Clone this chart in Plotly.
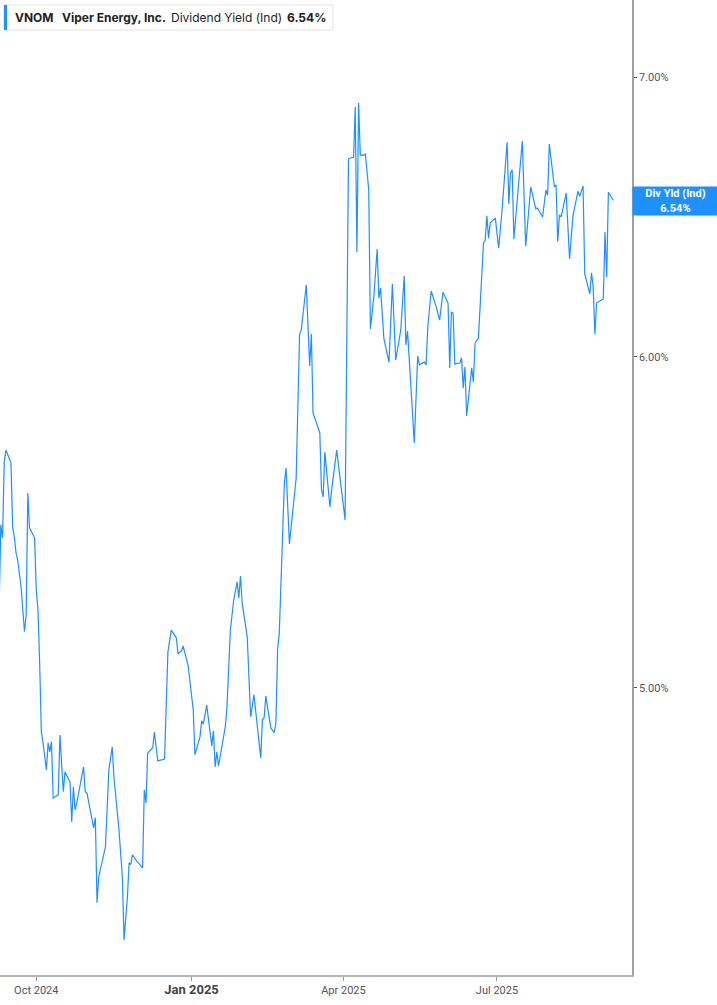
import math
import plotly.graph_objects as go

# VNOM dividend yield (indicated)
dates = [
    "2024-09-09", "2024-09-10", "2024-09-11", "2024-09-12", "2024-09-13", "2024-09-16", "2024-09-17", "2024-09-18", "2024-09-19", "2024-09-20",
    "2024-09-22", "2024-09-23", "2024-09-24", "2024-09-25", "2024-09-26", "2024-09-27", "2024-09-30", "2024-10-01", "2024-10-02", "2024-10-03",
    "2024-10-04", "2024-10-05", "2024-10-07", "2024-10-08", "2024-10-09", "2024-10-10", "2024-10-11", "2024-10-14", "2024-10-15", "2024-10-17",
    "2024-10-18", "2024-10-21", "2024-10-22", "2024-10-23", "2024-10-24", "2024-10-25", "2024-10-29", "2024-10-30", "2024-10-31", "2024-11-04",
    "2024-11-05", "2024-11-06", "2024-11-07", "2024-11-11", "2024-11-12", "2024-11-13", "2024-11-15", "2024-11-16", "2024-11-19", "2024-11-21",
    "2024-11-22", "2024-11-24", "2024-11-25", "2024-11-26", "2024-11-27", "2024-11-29", "2024-12-03", "2024-12-04", "2024-12-05", "2024-12-06",
    "2024-12-09", "2024-12-10", "2024-12-12", "2024-12-16", "2024-12-18", "2024-12-20", "2024-12-23", "2024-12-24", "2024-12-26", "2024-12-27",
    "2024-12-30", "2025-01-02", "2025-01-03", "2025-01-06", "2025-01-07", "2025-01-08", "2025-01-10", "2025-01-13", "2025-01-14", "2025-01-15",
    "2025-01-16", "2025-01-17", "2025-01-21", "2025-01-22", "2025-01-24", "2025-01-26", "2025-01-28", "2025-01-29", "2025-01-30", "2025-01-31",
    "2025-02-03", "2025-02-05", "2025-02-07", "2025-02-11", "2025-02-12", "2025-02-13", "2025-02-14", "2025-02-17", "2025-02-19", "2025-02-20",
    "2025-02-21", "2025-02-22", "2025-02-25", "2025-02-26", "2025-02-28", "2025-03-04", "2025-03-06", "2025-03-07", "2025-03-10", "2025-03-12",
    "2025-03-13", "2025-03-14", "2025-03-18", "2025-03-19", "2025-03-20", "2025-03-21", "2025-03-24", "2025-03-25", "2025-03-28", "2025-03-30",
    "2025-04-02", "2025-04-04", "2025-04-05", "2025-04-07", "2025-04-08", "2025-04-09", "2025-04-10", "2025-04-11", "2025-04-13", "2025-04-14",
    "2025-04-16", "2025-04-17", "2025-04-19", "2025-04-21", "2025-04-22", "2025-04-23", "2025-04-25", "2025-04-28", "2025-04-30", "2025-05-02",
    "2025-05-05", "2025-05-07", "2025-05-08", "2025-05-09", "2025-05-11", "2025-05-13", "2025-05-15", "2025-05-16", "2025-05-19", "2025-05-20",
    "2025-05-21", "2025-05-23", "2025-05-26", "2025-05-28", "2025-05-30", "2025-06-02", "2025-06-03", "2025-06-04", "2025-06-05", "2025-06-06",
    "2025-06-09", "2025-06-10", "2025-06-11", "2025-06-12", "2025-06-13", "2025-06-16", "2025-06-17", "2025-06-18", "2025-06-20", "2025-06-23",
    "2025-06-24", "2025-06-25", "2025-06-26", "2025-06-27", "2025-06-30", "2025-07-02", "2025-07-04", "2025-07-07", "2025-07-08", "2025-07-09",
    "2025-07-10", "2025-07-11", "2025-07-16", "2025-07-18", "2025-07-21", "2025-07-24", "2025-07-25", "2025-07-28", "2025-07-30", "2025-07-31",
    "2025-08-01", "2025-08-04", "2025-08-05", "2025-08-06", "2025-08-07", "2025-08-08", "2025-08-11", "2025-08-13", "2025-08-15", "2025-08-18",
    "2025-08-19", "2025-08-21", "2025-08-22", "2025-08-25", "2025-08-26", "2025-08-27", "2025-08-28", "2025-08-29", "2025-09-02", "2025-09-03",
    "2025-09-04", "2025-09-05", "2025-09-08",
]

div_yield = [
    5.231, 5.470, 5.431, 5.660, 5.700, 5.660, 5.464, 5.434, 5.386, 5.365,
    5.286, 5.228, 5.157, 5.205, 5.567, 5.461, 5.431, 5.277, 5.220, 5.069,
    4.880, 4.851, 4.779, 4.851, 4.827, 4.854, 4.706, 4.714, 4.872, 4.722,
    4.774, 4.748, 4.644, 4.735, 4.675, 4.693, 4.787, 4.722, 4.719, 4.629,
    4.655, 4.442, 4.506, 4.581, 4.683, 4.779, 4.840, 4.761, 4.624, 4.506,
    4.352, 4.456, 4.541, 4.536, 4.561, 4.548, 4.528, 4.727, 4.693, 4.824,
    4.838, 4.880, 4.803, 4.808, 5.100, 5.162, 5.140, 5.095, 5.103, 5.117,
    5.061, 4.940, 4.819, 4.867, 4.910, 4.902, 4.953, 4.843, 4.883, 4.787,
    4.827, 4.790, 4.894, 4.948, 5.162, 5.248, 5.301, 5.254, 5.318, 5.240,
    5.142, 4.921, 4.981, 4.811, 4.913, 4.918, 4.978, 4.891, 4.878, 4.905,
    5.106, 5.154, 5.598, 5.644, 5.413, 5.613, 6.073, 6.090, 6.243, 5.970,
    6.076, 5.818, 5.754, 5.576, 5.555, 5.694, 5.524, 5.576, 5.700, 5.616,
    5.485, 6.691, 6.695, 6.698, 6.886, 6.357, 6.901, 6.706, 6.706, 6.710,
    6.578, 6.093, 6.202, 6.368, 6.198, 6.232, 6.060, 5.983, 6.246, 5.990,
    6.090, 6.274, 6.040, 6.086, 5.914, 5.722, 6.003, 5.974, 5.983, 5.974,
    6.100, 6.222, 6.168, 6.123, 6.218, 6.181, 5.964, 6.150, 6.147, 5.977,
    5.980, 5.997, 5.898, 5.967, 5.808, 5.964, 5.918, 6.046, 6.063, 6.389,
    6.399, 6.485, 6.406, 6.460, 6.477, 6.371, 6.506, 6.754, 6.528, 6.640,
    6.652, 6.402, 6.758, 6.378, 6.589, 6.510, 6.513, 6.481, 6.578, 6.559,
    6.747, 6.589, 6.597, 6.393, 6.489, 6.481, 6.567, 6.333, 6.485, 6.574,
    6.555, 6.593, 6.281, 6.212, 6.285, 6.236, 6.076, 6.181, 6.195, 6.428,
    6.270, 6.570, 6.540,
]

x_tick_dates = ["2024-10-01", "2025-01-01", "2025-04-01", "2025-07-01"]
x_tick_labels = ["Oct 2024", "<b><span style='font-size:13px;color:#444'>Jan 2025</span></b>", "Apr 2025", "Jul 2025"]
y_tick_vals = [5, 6, 7]
y_tick_labels = ["5.00%", "6.00%", "7.00%"]

ticker = "VNOM"
company = "Viper Energy, Inc."
metric = "Dividend Yield (Ind)"
last_val = div_yield[-1]

BLUE = "#1E90FF"
W, H = 717, 1005
PW, PH = 632, 975  # plot area in px

fig = go.Figure()
fig.add_trace(go.Scatter(
    x=dates, y=div_yield, mode="lines",
    line=dict(color=BLUE, width=1.2),
    hoverinfo="skip", showlegend=False,
))

fig.update_layout(
    width=W, height=H,
    margin=dict(l=0, r=W - PW, t=0, b=H - PH),
    plot_bgcolor="white", paper_bgcolor="white",
    font=dict(family="Roboto, Arial, sans-serif", size=11, color="#555"),
    showlegend=False,
)

fig.update_xaxes(
    type="date",
    range=["2024-09-09 12:00", "2025-09-19"],
    tickmode="array", tickvals=x_tick_dates, ticktext=x_tick_labels,
    showgrid=False, zeroline=False,
    showline=True, linecolor="#b5b5b5", linewidth=2,
    ticks="outside", ticklen=4, tickcolor="#999", tickwidth=1,
    tickfont=dict(family="Roboto, Arial, sans-serif", size=11, color="#555"),
)

fig.update_yaxes(
    type="log", side="right",
    range=[math.log10(4.2686), math.log10(7.304)],
    tickmode="array", tickvals=y_tick_vals, ticktext=y_tick_labels,
    showgrid=False, zeroline=False,
    showline=True, linecolor="#a0a0a0", linewidth=1.5,
    ticks="outside", ticklen=3, tickcolor="#555", tickwidth=1,
    tickfont=dict(family="Roboto, Arial, sans-serif", size=11, color="#555"),
)

# header box
fig.add_shape(type="rect", xref="paper", yref="paper",
              x0=4 / PW, x1=333 / PW, y0=1 - 30 / PH, y1=1 - 5 / PH,
              line=dict(color="#e4e4e4", width=1), fillcolor="white", layer="above")
fig.add_shape(type="rect", xref="paper", yref="paper",
              x0=4 / PW, x1=7 / PW, y0=1 - 30 / PH, y1=1 - 5 / PH,
              line=dict(width=0), fillcolor=BLUE, layer="above")

header = [
    (13, f"<b>{ticker}</b>"),
    (60, f"<b>{company}</b>"),
    (169, metric),
    (285, f"<b>{last_val:.2f}%</b>"),
]
for px, txt in header:
    fig.add_annotation(x=px / PW, y=1 - 17.5 / PH, xref="paper", yref="paper",
                       xanchor="left", yanchor="middle", showarrow=False, text=txt,
                       font=dict(family="Inter, Roboto, sans-serif", size=12, color="#222"))

# last value label on the right axis
fig.add_annotation(
    x=1, y=math.log10(last_val), xref="paper", yref="y",
    xanchor="left", yanchor="middle", showarrow=False,
    text=f"<b>Div Yld (Ind)</b><br><b>{last_val:.2f}%</b>",
    font=dict(family="Roboto, Arial, sans-serif", size=11, color="white"),
    bgcolor=BLUE, width=81, height=24, borderpad=2, align="center",
)

fig.write_html("out.html", config={"displayModeBar": False},
               post_script="document.body.style.margin='0';")
